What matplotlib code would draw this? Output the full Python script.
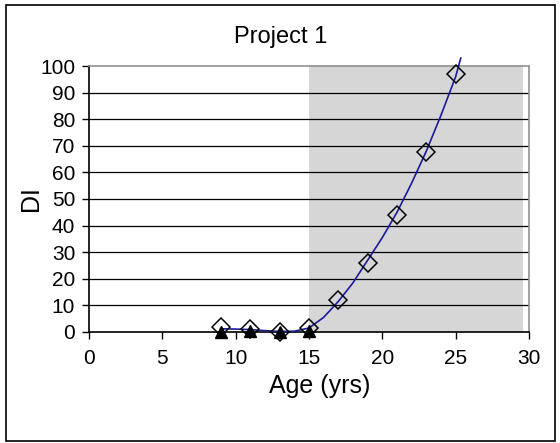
import matplotlib.pyplot as plt
from matplotlib.patches import Rectangle

plt.rcParams['font.family'] = ['Liberation Sans', 'DejaVu Sans']

age_open = [9, 11, 13, 15, 17, 19, 21, 23, 25]
di_open = [2, 1, 0, 1.5, 12, 26, 44, 67.5, 97]
age_tri = [9, 11, 13, 15]
di_tri = [0, 0.5, 0, 0.5]
age_fit = [9, 10, 11, 12, 13, 14, 15, 16, 17, 18, 19, 20, 21, 22, 23, 24, 25, 25.35]
di_fit = [1.2, 1.1, 0.9, 0.5, 0.2, 0.3, 1.5, 5.5, 11.5, 18.5, 27, 35.5, 45, 56, 68, 81.5, 96, 103]
shade_x = (15, 29.6)

fig = plt.figure(figsize=(5.6, 4.43), dpi=100)
ax = fig.add_axes([0.159, 0.2506, 0.7856, 0.6004])

ax.add_patch(Rectangle((shade_x[0], 0), shade_x[1] - shade_x[0], 100,
                       facecolor='#d6d6d6', edgecolor='none', zorder=0))
for v in range(10, 100, 10):
    ax.axhline(v, color='black', lw=0.9, zorder=1)

ax.plot(age_fit, di_fit, color='#1a1a9a', lw=1.2, zorder=3, clip_on=False)
ax.plot(age_tri, di_tri, ls='none', marker='^', ms=8.5, color='black', zorder=4, clip_on=False)
ax.plot(age_open, di_open, ls='none', marker='D', ms=9, mfc='none', mec='black',
        mew=1.1, zorder=5, clip_on=False)

ax.set_xlim(0, 30)
ax.set_ylim(0, 100)
ax.set_xticks(range(0, 31, 5))
ax.set_yticks(range(0, 101, 10))
ax.tick_params(labelsize=15, direction='out', length=5, width=1)
ax.tick_params(axis='x', pad=7)
ax.tick_params(axis='y', pad=5)
for s in ['left', 'bottom']:
    ax.spines[s].set_color('black')
    ax.spines[s].set_linewidth(1.2)
for s in ['top', 'right']:
    ax.spines[s].set_color('#909090')
    ax.spines[s].set_linewidth(1.2)

fig.text(281 / 560, 1 - 37 / 443, 'Project 1', fontsize=17, ha='center', va='center')
fig.text(320 / 560, 1 - 386 / 443, 'Age (yrs)', fontsize=18, ha='center', va='center')
fig.text(31 / 560, 1 - 199 / 443, 'DI', fontsize=18, ha='center', va='center', rotation=90)

fig.patches.append(Rectangle((6 / 560, 2 / 443), 549 / 560, 436 / 443, transform=fig.transFigure,
                             fill=False, edgecolor='black', lw=1.2))

fig.savefig('out.png', dpi=100)
